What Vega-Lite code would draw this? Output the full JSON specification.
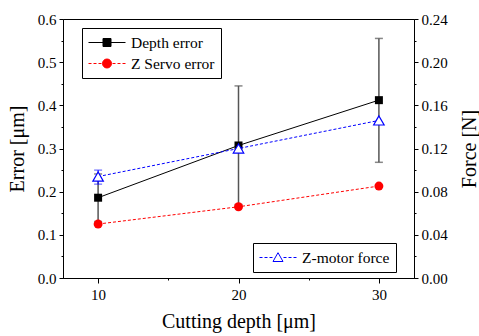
{
  "$schema": "https://vega.github.io/schema/vega-lite/v6.json",
  "autosize": "none",
  "width": 351,
  "height": 259,
  "padding": {"left": 63, "top": 19, "right": 65, "bottom": 58},
  "background": "white",
  "config": {
    "font": "Liberation Serif",
    "view": {"stroke": "black", "strokeWidth": 1},
    "axis": {
      "domainColor": "black",
      "tickColor": "black",
      "labelColor": "black",
      "titleColor": "black",
      "labelFont": "Liberation Serif",
      "titleFont": "Liberation Serif",
      "labelFontSize": 15,
      "titleFontSize": 20,
      "titleFontWeight": "normal",
      "grid": false,
      "labelOverlap": false,
      "labelFlush": false
    },
    "legend": {
      "labelFont": "Liberation Serif",
      "labelFontSize": 15.5,
      "labelColor": "black",
      "strokeColor": "black",
      "fillColor": "white",
      "padding": 6,
      "rowPadding": 4,
      "labelOffset": 26,
      "symbolSize": 256,
      "symbolStrokeWidth": 1,
      "symbolOpacity": 1
    }
  },
  "data": {
    "values": [
      {"depth": 10, "series": "Depth error", "value": 0.186, "lo": 0.131, "hi": 0.241},
      {"depth": 20, "series": "Depth error", "value": 0.307, "lo": 0.17, "hi": 0.445},
      {"depth": 30, "series": "Depth error", "value": 0.412, "lo": 0.268, "hi": 0.555},
      {"depth": 10, "series": "Z Servo error", "value": 0.125},
      {"depth": 20, "series": "Z Servo error", "value": 0.165},
      {"depth": 30, "series": "Z Servo error", "value": 0.213},
      {"depth": 10, "series": "Z-motor force", "value": 0.094, "lo": 0.087, "hi": 0.1},
      {"depth": 20, "series": "Z-motor force", "value": 0.12},
      {"depth": 30, "series": "Z-motor force", "value": 0.146}
    ]
  },
  "encoding": {
    "x": {
      "field": "depth",
      "type": "quantitative",
      "scale": {"domain": [7.5, 32.5], "nice": false, "zero": false},
      "axis": {
        "title": "Cutting depth [μm]",
        "values": [10, 15, 20, 25, 30],
        "labelExpr": "datum.value % 10 === 0 ? datum.label : ''",
        "tickSize": {"condition": {"test": "datum.value % 10 !== 0", "value": 2}, "value": 5},
        "labelPadding": 4,
        "titlePadding": 9
      }
    }
  },
  "layer": [
    {
      "transform": [{"filter": "datum.series !== 'Z-motor force'"}],
      "encoding": {
        "y": {
          "field": "value",
          "type": "quantitative",
          "scale": {"domain": [0, 0.6], "nice": false},
          "axis": {
            "title": "Error [μm]",
            "orient": "left",
            "values": [0, 0.05, 0.1, 0.15, 0.2, 0.25, 0.3, 0.35, 0.4, 0.45, 0.5, 0.55, 0.6],
            "labelExpr": "abs(datum.value*10 - round(datum.value*10)) < 0.001 ? format(datum.value, '.1f') : ''",
            "tickSize": {"condition": {"test": "abs(datum.value*10 - round(datum.value*10)) > 0.001", "value": 2}, "value": 4},
            "labelPadding": 3,
            "titlePadding": 10
          }
        }
      },
      "layer": [
        {
          "transform": [{"filter": "isValid(datum.lo)"}],
          "mark": {"type": "errorbar", "ticks": {"size": 8}, "color": "#555555", "thickness": 1.5},
          "encoding": {
            "y": {"field": "lo", "type": "quantitative"},
            "y2": {"field": "hi"}
          }
        },
        {
          "transform": [{"filter": "datum.series === 'Depth error'"}],
          "mark": {"type": "line", "strokeWidth": 1, "color": "black"}
        },
        {
          "transform": [{"filter": "datum.series === 'Z Servo error'"}],
          "mark": {"type": "line", "strokeWidth": 1, "color": "red", "strokeDash": [3, 2]}
        },
        {
          "transform": [{"filter": "datum.series === 'Z Servo error'"}],
          "mark": {"type": "point", "shape": "circle", "filled": true, "size": 80, "color": "red", "opacity": 1}
        },
        {
          "transform": [{"filter": "datum.series === 'Depth error'"}],
          "mark": {"type": "point", "shape": "square", "filled": true, "size": 64, "color": "black", "opacity": 1}
        },
        {
          "mark": {"type": "point", "filled": true, "opacity": 0},
          "encoding": {
            "fill": {
              "field": "series",
              "type": "nominal",
              "scale": {"domain": ["Depth error", "Z Servo error"], "range": ["black", "red"]},
              "legend": {"orient": "none", "legendX": 19, "legendY": 9, "title": null, "labelFont": "Liberation Serif", "labelFontSize": 15.5}
            },
            "stroke": {
              "field": "series",
              "type": "nominal",
              "scale": {"domain": ["Depth error", "Z Servo error"], "range": ["black", "red"]},
              "legend": {"orient": "none", "legendX": 19, "legendY": 9, "title": null, "labelFont": "Liberation Serif", "labelFontSize": 15.5}
            },
            "shape": {
              "field": "series",
              "type": "nominal",
              "scale": {
                "domain": ["Depth error", "Z Servo error"],
                "range": [
                  "M-1,0H0.8125M1.8125,0H3.625M0.8125,-0.5H1.8125V0.5H0.8125Z",
                  "M-1,0H-0.625M-0.375,0H0M0.25,0H0.625M2,0H2.375M2.625,0H3M3.25,0H3.625M1.875,0A0.5625,0.5625,0,1,1,0.75,0A0.5625,0.5625,0,1,1,1.875,0Z"
                ]
              },
              "legend": {"orient": "none", "legendX": 19, "legendY": 9, "title": null, "labelFont": "Liberation Serif", "labelFontSize": 15.5}
            }
          }
        }
      ]
    },
    {
      "transform": [{"filter": "datum.series === 'Z-motor force'"}],
      "encoding": {
        "y": {
          "field": "value",
          "type": "quantitative",
          "scale": {"domain": [0, 0.24], "nice": false},
          "axis": {
            "title": "Force [N]",
            "orient": "right",
            "titleAngle": 270,
            "titleBaseline": "top",
            "values": [0, 0.02, 0.04, 0.06, 0.08, 0.1, 0.12, 0.14, 0.16, 0.18, 0.2, 0.22, 0.24],
            "labelExpr": "abs(datum.value*25 - round(datum.value*25)) < 0.001 ? format(datum.value, '.2f') : ''",
            "tickSize": {"condition": {"test": "abs(datum.value*25 - round(datum.value*25)) > 0.001", "value": 2}, "value": 4},
            "labelPadding": 3,
            "titlePadding": 12
          }
        }
      },
      "layer": [
        {
          "transform": [{"filter": "isValid(datum.lo)"}],
          "mark": {"type": "errorbar", "ticks": {"size": 8}, "color": "blue", "thickness": 1},
          "encoding": {
            "y": {"field": "lo", "type": "quantitative"},
            "y2": {"field": "hi"}
          }
        },
        {
          "mark": {"type": "line", "strokeWidth": 1, "strokeDash": [3, 2], "color": "blue"}
        },
        {
          "mark": {"type": "point", "shape": "triangle-up", "size": 110, "filled": false, "fill": "white", "fillOpacity": 1, "stroke": "blue", "strokeWidth": 1.2, "opacity": 1}
        },
        {
          "mark": {"type": "point", "filled": false, "opacity": 0, "fill": "white"},
          "encoding": {
            "stroke": {
              "field": "series",
              "type": "nominal",
              "scale": {"domain": ["Z-motor force"], "range": ["blue"]},
              "legend": {"orient": "none", "legendX": 190, "legendY": 224, "title": null, "labelFont": "Liberation Serif", "labelFontSize": 15.5}
            },
            "shape": {
              "field": "series",
              "type": "nominal",
              "scale": {
                "domain": ["Z-motor force"],
                "range": ["M-1,0H-0.625M-0.375,0H0M0.25,0H0.625M2,0H2.375M2.625,0H3M3.25,0H3.625M1.3125,-0.6L1.9375,0.5L0.6875,0.5Z"]
              },
              "legend": {"orient": "none", "legendX": 190, "legendY": 224, "title": null, "labelFont": "Liberation Serif", "labelFontSize": 15.5}
            }
          }
        }
      ]
    }
  ],
  "resolve": {
    "scale": {"y": "independent", "shape": "independent", "fill": "independent", "stroke": "independent"},
    "legend": {"shape": "independent", "fill": "independent", "stroke": "independent"},
    "axis": {"y": "independent"}
  }
}
